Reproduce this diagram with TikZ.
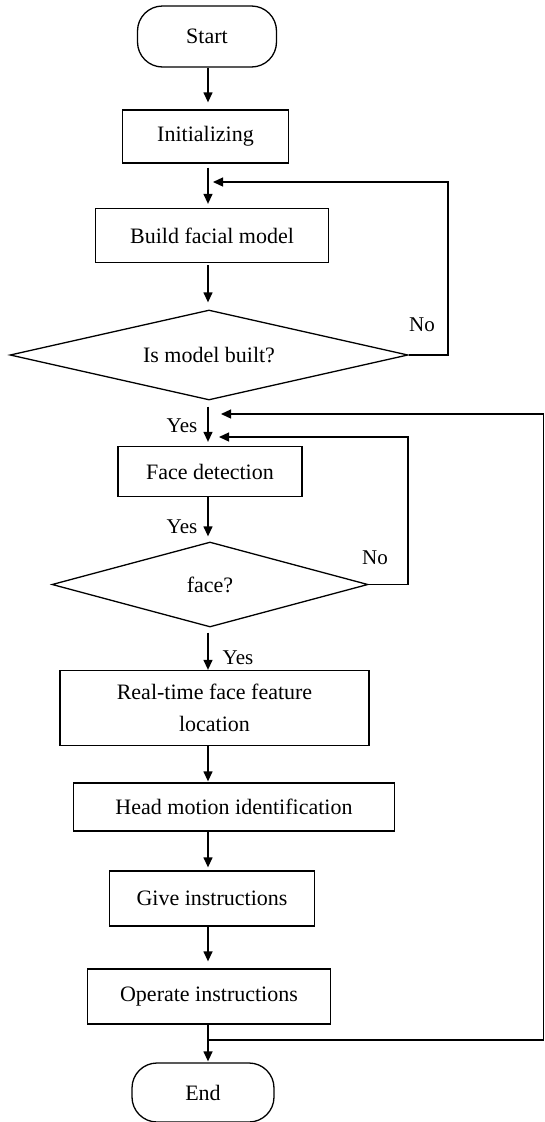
\documentclass[tikz,border=0pt]{standalone}
\usepackage{fontspec}
\setmainfont{Liberation Serif}
\usetikzlibrary{shapes.geometric,arrows.meta}
\begin{document}
\begin{tikzpicture}[x=1pt,y=1pt,
  box/.style={draw,line width=1.3pt,inner sep=0pt,font=\fontsize{22}{32}\selectfont,align=center},
  term/.style={box,rounded corners=25pt},
  dec/.style={draw,diamond,line width=1.3pt,inner sep=0pt,font=\fontsize{22}{26}\selectfont},
  arr/.style={line width=1.3pt,-{Triangle[length=10pt,width=9pt]}},
  lbl/.style={font=\fontsize{21}{24}\selectfont,inner sep=0pt}]
\useasboundingbox (0,0) rectangle (545,-1122);
\node[term,minimum width=139pt,minimum height=61pt] (start) at (207,-36.5) {Start};
\node[box,minimum width=166pt,minimum height=53pt] (init) at (205.5,-136.5) {Initializing};
\node[box,minimum width=233pt,minimum height=54pt] (build) at (212,-235.5) {Build facial model};
\node[dec,shape aspect=4.4,minimum width=398pt,minimum height=90pt] (d1) at (209,-355) {Is model built?};
\node[box,minimum width=184pt,minimum height=50pt] (fd) at (210,-471.5) {Face detection};
\node[dec,shape aspect=3.7,minimum width=316pt,minimum height=85pt] (d2) at (210,-584.5) {face?};
\node[box,minimum width=309pt,minimum height=75pt] (rt) at (214.5,-708) {Real-time face feature\\location};
\node[box,minimum width=321pt,minimum height=48pt] (hm) at (234,-807) {Head motion identification};
\node[box,minimum width=205pt,minimum height=55pt] (gi) at (212,-898.5) {Give instructions};
\node[box,minimum width=243pt,minimum height=55pt] (op) at (209,-996.5) {Operate instructions};
\node[term,minimum width=142pt,minimum height=59pt] (end) at (203,-1092.5) {End};
\coordinate (sp) at (208,0);
\coordinate (jn) at (208,-1040);
\coordinate (k1) at (448,-182);
\coordinate (k1tip) at (213,-182);
\coordinate (k2) at (543.5,-414);
\coordinate (k2tip) at (221,-414);
\coordinate (k3) at (408,-437);
\coordinate (k3tip) at (219,-437);
\draw[arr,shorten >=7pt] (start.south -| sp) -- (init.north -| sp);
\draw[arr,shorten <=4pt,shorten >=4pt] (init.south -| sp) -- (build.north -| sp);
\draw[arr,shorten <=2pt,shorten >=7pt] (build.south -| sp) -- (d1.north -| sp);
\draw[arr,shorten <=6pt,shorten >=4pt] (d1.south -| sp) -- (fd.north -| sp);
\draw[arr,shorten >=5pt] (fd.south -| sp) -- (d2.north -| sp);
\draw[arr,shorten <=5pt] (d2.south -| sp) -- (rt.north -| sp);
\draw[arr,shorten >=1pt] (rt.south -| sp) -- (hm.north -| sp);
\draw[arr,shorten >=3pt] (hm.south -| sp) -- (gi.north -| sp);
\draw[arr,shorten >=7pt] (gi.south -| sp) -- (op.north -| sp);
\draw[arr,shorten >=1pt] (op.south -| sp) -- (end.north -| sp);
\draw[arr] (d1.east) -| (k1) -- (k1tip);
\draw[arr] (d2.east) -| (k3) -- (k3tip);
\draw[arr] (jn) -| (k2) -- (k2tip);
\node[lbl] (y1) at (182,-426) {Yes};
\node[lbl] (y2) at (182,-527) {Yes};
\node[lbl] (y3) at (238,-658) {Yes};
\node[lbl] (n1) at (422,-325) {No};
\node[lbl] (n2) at (375,-558) {No};
\end{tikzpicture}
\end{document}
